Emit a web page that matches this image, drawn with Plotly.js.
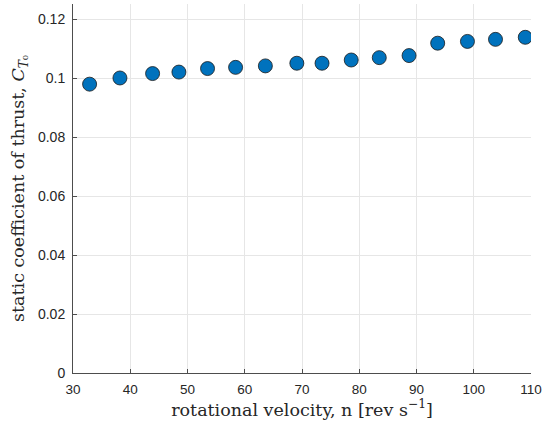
<!DOCTYPE html>
<html>
<head>
<meta charset="utf-8">
<script src="https://cdn.plot.ly/plotly-3.0.1.min.js"></script>
<style>html,body{margin:0;padding:0;background:#fff;}#chart{width:542px;height:424px;}</style>
</head>
<body>
<div id="chart"></div>
<script>
const speed = [32.9, 38.2, 43.9, 48.5, 53.5, 58.4, 63.6, 69.1, 73.5, 78.6, 83.5, 88.7, 93.7, 98.9, 103.8, 109.0];
const thrustCoeff = [0.0980, 0.1001, 0.1016, 0.1021, 0.1033, 0.1037, 0.1042, 0.1051, 0.1051, 0.1062, 0.1070, 0.1077, 0.1119, 0.1125, 0.1132, 0.1139];
const xTicks = [30, 40, 50, 60, 70, 80, 90, 100, 110];
const yTicks = [0, 0.02, 0.04, 0.06, 0.08, 0.1, 0.12];
const yTickLabels = ['0', '0.02', '0.04', '0.06', '0.08', '0.1', '0.12'];

const trace = {
  x: speed, y: thrustCoeff, type: 'scatter', mode: 'markers',
  marker: {size: 14, color: '#0072BD', line: {color: '#1a1a1a', width: 0.8}},
  hoverinfo: 'x+y'
};
const axisCommon = {
  showline: true, linecolor: '#4d4d4d', linewidth: 1,
  ticks: 'inside', ticklen: 4, tickcolor: '#4d4d4d', tickwidth: 1,
  showgrid: true, gridcolor: '#e6e6e6', gridwidth: 1,
  zeroline: false, mirror: false, ticklabeloverflow: 'allow',
  tickfont: {family: 'Liberation Sans, Arial, sans-serif', size: 14, color: '#262626'}
};
const layout = {
  width: 542, height: 424,
  margin: {l: 73, r: 11, t: 4, b: 51},
  paper_bgcolor: '#fff', plot_bgcolor: '#fff',
  showlegend: false,
  xaxis: Object.assign({}, axisCommon, {
    range: [30, 110.001], tickvals: xTicks, ticklabelstandoff: 4,
    tickfont: {family: 'Liberation Sans, Arial, sans-serif', size: 13.5, color: '#262626'},
    title: {text: 'rotational velocity, n [rev s<sup>−1</sup>]', standoff: 2,
      font: {family: 'DejaVu Serif, serif', size: 17.5, color: '#262626'}}
  }),
  yaxis: Object.assign({}, axisCommon, {
    range: [0, 0.1252], tickvals: yTicks, ticktext: yTickLabels, ticklabelstandoff: 4,
    title: {text: 'static coefficient of thrust, <i>C</i><sub><i>T</i>₀</sub>', standoff: 8,
      font: {family: 'DejaVu Serif, serif', size: 17.5, color: '#262626'}}
  })
};
Plotly.newPlot('chart', [trace], layout, {displayModeBar: false, staticPlot: true});
</script>
</body>
</html>
